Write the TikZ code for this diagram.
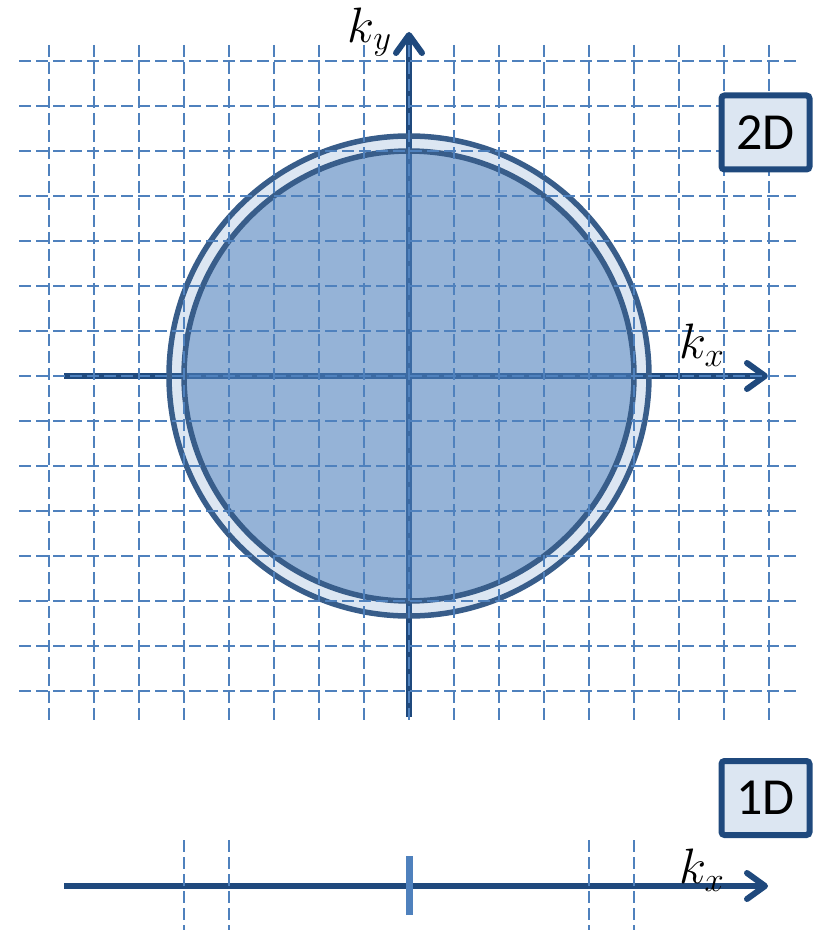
\documentclass[tikz,border=0pt]{standalone}
\usepackage{fontspec}
\newfontfamily\boxfont{Carlito}
\usetikzlibrary{arrows.meta}
\definecolor{accent}{HTML}{4F81BD}
\definecolor{axisblue}{HTML}{1F497D}
\definecolor{rimblue}{HTML}{385D8A}
\definecolor{boxfill}{HTML}{DCE6F2}

\begin{document}
\begin{tikzpicture}[x=0.5pt, y=-0.5pt,
    gridline/.style={draw=accent, line width=1.2pt, dash pattern=on 6pt off 2.5pt},
    axisline/.style={draw=axisblue, line width=3pt,
      -{Straight Barb[length=9pt, width=13pt, round]}},
    rim/.style={draw=rimblue, line width=2.75pt, fill=accent},
    dimbox/.style={rectangle, rounded corners=1.5pt, draw=axisblue, line width=3pt,
      fill=boxfill, minimum width=44pt, minimum height=37pt,
      font=\boxfont\fontsize{26}{30}\selectfont},
    klabel/.style={font=\fontsize{24}{28}\selectfont}]

  \useasboundingbox (0,0) rectangle (817,930);

  % 2D: axes
  \coordinate (O) at (409,376);
  \coordinate (xL) at (64,376);
  \coordinate (xR) at (768,376);
  \coordinate (yB) at (409,717);
  \coordinate (yT) at (409,32);
  \draw[axisline] (xL) -- (xR);
  \draw[axisline] (yB) -- (yT);

  % Fermi circle and shell
  \draw[rim, fill opacity=0.2] (O) circle[radius=120pt];
  \draw[rim, fill opacity=0.5] (O) circle[radius=112.5pt];

  % k-space lattice
  \foreach \gx in {49,94,...,769}
    \draw[gridline] (\gx,45) -- (\gx,720);
  \foreach \gy in {61,106,...,691}
    \draw[gridline] (19,\gy) -- (800,\gy);

  \node[klabel] (ky) at (370,32) {$k_y$};
  \node[klabel] (kx) at (702,345) {$k_x$};
  \node[dimbox] (twoD) at (765.5,132.5) {2D};

  % 1D
  \coordinate (aL) at (64,886);
  \coordinate (aR) at (768,886);
  \coordinate (tB) at (409,915);
  \coordinate (tT) at (409,856);
  \draw[axisline] (aL) -- (aR);
  \foreach \gx in {184,229,589,634}
    \draw[gridline] (\gx,840) -- (\gx,930);
  \draw[draw=accent, line width=3.5pt] (tB) -- (tT);

  \node[klabel] (kxa) at (702,870) {$k_x$};
  \node[dimbox] (oneD) at (765.5,798) {1D};
\end{tikzpicture}
\end{document}
